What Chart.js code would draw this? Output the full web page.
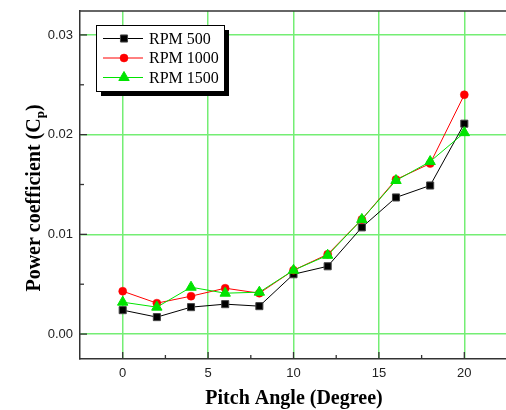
<!DOCTYPE html>
<html><head><meta charset="utf-8">
<script src="https://cdn.jsdelivr.net/npm/chart.js@4/dist/chart.umd.min.js"></script>
<style>html,body{margin:0;padding:0;background:#fff;overflow:hidden;width:506px;height:410px}canvas{display:block}</style>
</head><body>
<canvas id="c" width="520" height="410"></canvas>
<script>
const pitch = [0, 2, 4, 6, 8, 10, 12, 14, 16, 18, 20];
const rpm500 = [0.0024, 0.0017, 0.0027, 0.0030, 0.0028, 0.0060, 0.0068, 0.0107, 0.0137, 0.0149, 0.0211];
const rpm1000 = [0.0043, 0.0031, 0.0038, 0.0046, 0.0041, 0.0064, 0.0080, 0.0115, 0.0155, 0.0171, 0.0240];
const rpm1500 = [0.0032, 0.0027, 0.0047, 0.0041, 0.0042, 0.0064, 0.0079, 0.0115, 0.0154, 0.0173, 0.0202];
const seriesLabels = ['RPM 500', 'RPM 1000', 'RPM 1500'];
const xTitle = 'Pitch Angle (Degree)';
const yTitleMain = 'Power coefficient (C';
const yTitleSub = 'p';
const yTitleEnd = ')';

const GRID = '#74ee74';
const AXIS = '#333';
const isMult = (v, s) => Math.abs(v / s - Math.round(v / s)) < 1e-6;

function pts(ys) { return pitch.map((x, i) => ({x: x, y: ys[i]})); }

const extras = {
  id: 'extras',
  afterDraw(chart) {
    const ctx = chart.ctx, a = chart.chartArea;
    const xs = chart.scales.x, ys = chart.scales.y;
    ctx.save();
    // top border
    ctx.strokeStyle = AXIS; ctx.lineWidth = 1.5;
    ctx.beginPath(); ctx.moveTo(a.left, a.top); ctx.lineTo(a.right + 10, a.top); ctx.stroke();
    // inward ticks
    ctx.lineWidth = 1.3;
    xs.ticks.forEach(t => {
      if (!isMult(t.value, 2.5) || t.value < 0) return;
      const len = isMult(t.value, 5) ? 7 : 4;
      const px = xs.getPixelForValue(t.value);
      ctx.beginPath(); ctx.moveTo(px, a.bottom); ctx.lineTo(px, a.bottom - len); ctx.stroke();
    });
    ys.ticks.forEach(t => {
      if (!isMult(t.value, 0.005) || t.value < 0) return;
      const len = isMult(t.value, 0.01) ? 7 : 4;
      const py = ys.getPixelForValue(t.value);
      ctx.beginPath(); ctx.moveTo(a.left, py); ctx.lineTo(a.left + len, py); ctx.stroke();
    });
    // axis titles
    ctx.fillStyle = '#000';
    ctx.font = 'bold 20px "Liberation Serif"';
    ctx.textAlign = 'center'; ctx.textBaseline = 'alphabetic';
    ctx.fillText(xTitle, 294, 404);
    ctx.save();
    ctx.translate(40, 198); ctx.rotate(-Math.PI / 2);
    const f1 = 'bold 20px "Liberation Serif"', f2 = 'bold 13px "Liberation Serif"';
    ctx.font = f1; const w1 = ctx.measureText(yTitleMain).width, w3 = ctx.measureText(yTitleEnd).width;
    ctx.font = f2; const w2 = ctx.measureText(yTitleSub).width;
    let sx = -(w1 + w2 + w3) / 2;
    ctx.textAlign = 'left';
    ctx.font = f1; ctx.fillText(yTitleMain, sx, 0); sx += w1;
    ctx.font = f2; ctx.fillText(yTitleSub, sx, 4); sx += w2;
    ctx.font = f1; ctx.fillText(yTitleEnd, sx, 0);
    ctx.restore();
    // legend box
    const L = 96, T = 25, W = 128, H = 66;
    ctx.fillStyle = '#000'; ctx.fillRect(L + 5, T + 5, W, H);
    ctx.fillStyle = '#fff'; ctx.fillRect(L, T, W, H);
    ctx.strokeStyle = '#000'; ctx.lineWidth = 1; ctx.strokeRect(L + 0.5, T + 0.5, W, H);
    ctx.font = '16px "Liberation Serif"'; ctx.textBaseline = 'middle'; ctx.textAlign = 'left';
    const rows = [38.5, 58, 77.5];
    chart.data.datasets.forEach((ds, i) => {
      const y = rows[i];
      ctx.strokeStyle = ds.borderColor; ctx.lineWidth = 1;
      ctx.beginPath(); ctx.moveTo(103, y); ctx.lineTo(143, y); ctx.stroke();
      ctx.save();
      ctx.fillStyle = ds.pointBackgroundColor; ctx.strokeStyle = ds.pointBorderColor; ctx.lineWidth = ds.pointBorderWidth;
      Chart.helpers.drawPoint(ctx, {pointStyle: ds.pointStyle, radius: ds.pointRadius, rotation: 0, borderWidth: ds.pointBorderWidth}, 124, y);
      ctx.restore();
      ctx.fillStyle = '#000';
      ctx.fillText(ds.label, 149, y + 1);
    });
    ctx.restore();
  }
};

new Chart(document.getElementById('c'), {
  type: 'line',
  data: {
    datasets: [
      {label: seriesLabels[0], data: pts(rpm500), borderColor: '#000', borderWidth: 1,
       pointStyle: 'rect', pointRadius: 5, pointBackgroundColor: '#000', pointBorderColor: '#444', pointBorderWidth: 1, order: 3},
      {label: seriesLabels[1], data: pts(rpm1000), borderColor: '#ff0000', borderWidth: 1,
       pointStyle: 'circle', pointRadius: 4, pointBackgroundColor: '#ff0000', pointBorderColor: '#ff0000', pointBorderWidth: 0.5, order: 2},
      {label: seriesLabels[2], data: pts(rpm1500), borderColor: '#00e400', borderWidth: 1,
       pointStyle: 'triangle', pointRadius: 6, pointBackgroundColor: '#00e400', pointBorderColor: '#00e400', pointBorderWidth: 1, order: 1}
    ]
  },
  options: {
    responsive: false, animation: false, devicePixelRatio: 1,
    layout: {padding: {top: 11, right: 4, left: 0, bottom: 0}},
    plugins: {legend: {display: false}, tooltip: {enabled: false}},
    elements: {line: {tension: 0}},
    scales: {
      x: {
        type: 'linear', min: -2.5, max: 22.85,
        afterFit(s) { s.height = 51; s.paddingLeft = 0; s.paddingRight = 0; s.paddingTop = 0; s.paddingBottom = 0; },
        ticks: {stepSize: 2.5, autoSkip: false, maxRotation: 0, padding: 7, color: '#222',
          font: {family: '"Liberation Sans"', size: 13},
          callback: v => (isMult(v, 5) ? String(Math.round(v)) : '')},
        grid: {drawTicks: false, lineWidth: 1.5,
          color: c => (c.tick && isMult(c.tick.value, 5) ? GRID : 'rgba(0,0,0,0)')},
        border: {color: AXIS, width: 1.5}
      },
      y: {
        type: 'linear', min: -0.0025, max: 0.0324,
        afterFit(s) { s.width = 80; s.paddingLeft = 0; s.paddingRight = 0; s.paddingTop = 0; s.paddingBottom = 0; },
        ticks: {stepSize: 0.005, autoSkip: false, padding: 7, color: '#222',
          font: {family: '"Liberation Sans"', size: 13},
          callback: v => (isMult(v, 0.01) ? v.toFixed(2) : '')},
        grid: {drawTicks: false, lineWidth: 1.5,
          color: c => (c.tick && isMult(c.tick.value, 0.01) ? GRID : 'rgba(0,0,0,0)')},
        border: {color: AXIS, width: 1.5}
      }
    }
  },
  plugins: [extras]
});
</script>
</body></html>
